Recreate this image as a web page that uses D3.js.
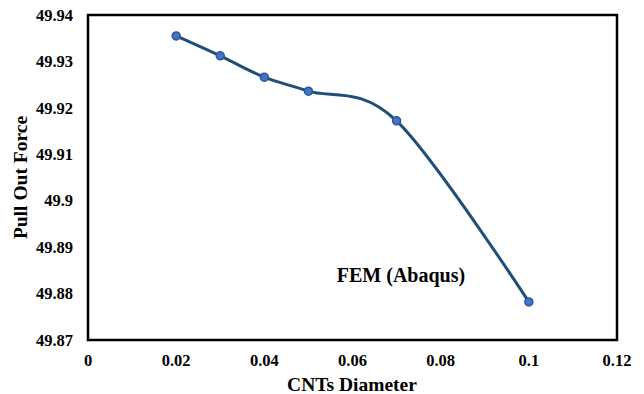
<!DOCTYPE html>
<html>
<head>
<meta charset="utf-8">
<script src="https://cdn.jsdelivr.net/npm/d3@7"></script>
<style>
  body { margin: 0; background: #fff; }
  text { font-family: "Liberation Serif", "Times New Roman", serif; font-weight: bold; fill: #000; }
</style>
</head>
<body>
<svg id="chart" width="644" height="394"></svg>
<script>
// data
var diameters = [0.02, 0.03, 0.04, 0.05, 0.07, 0.1];
var pullOut = [49.9355, 49.9312, 49.9266, 49.9236, 49.9172, 49.8782];
var xTicks = [0, 0.02, 0.04, 0.06, 0.08, 0.1, 0.12];
var yTicks = [49.87, 49.88, 49.89, 49.9, 49.91, 49.92, 49.93, 49.94];

var svg = d3.select("#chart");
var plotLeft = 88, plotRight = 617, plotTop = 15, plotBottom = 340;

var x = d3.scaleLinear().domain([0, 0.12]).range([plotLeft, plotRight]);
var y = d3.scaleLinear().domain([49.87, 49.94]).range([plotBottom, plotTop]);

// frame
svg.append("rect")
    .attr("x", plotLeft)
    .attr("y", plotTop)
    .attr("width", plotRight - plotLeft)
    .attr("height", plotBottom - plotTop)
    .attr("fill", "none")
    .attr("stroke", "#000")
    .attr("stroke-width", 2.5);

// y tick labels
svg.append("g")
    .selectAll("text")
    .data(yTicks)
    .enter()
    .append("text")
    .attr("x", plotLeft - 15)
    .attr("y", function (d) { return y(d); })
    .attr("dy", "0.35em")
    .attr("text-anchor", "end")
    .attr("font-size", 16.5)
    .text(function (d) { return +d.toFixed(2); });

// x tick labels
svg.append("g")
    .selectAll("text")
    .data(xTicks)
    .enter()
    .append("text")
    .attr("x", function (d) { return x(d); })
    .attr("y", plotBottom + 26)
    .attr("text-anchor", "middle")
    .attr("font-size", 16.5)
    .text(function (d) { return +d.toFixed(2); });

// axis titles
svg.append("text")
    .attr("x", 352)
    .attr("y", 391)
    .attr("text-anchor", "middle")
    .attr("font-size", 19.5)
    .text("CNTs Diameter");

svg.append("text")
    .attr("transform", "translate(27, " + ((plotTop + plotBottom) / 2) + ") rotate(-90)")
    .attr("text-anchor", "middle")
    .attr("font-size", 19.5)
    .text("Pull Out Force");

// smoothed line
var points = diameters.map(function (d, i) { return [d, pullOut[i]]; });
var line = d3.line()
    .x(function (d) { return x(d[0]); })
    .y(function (d) { return y(d[1]); })
    .curve(d3.curveCardinal.tension(0));

svg.append("path")
    .datum(points)
    .attr("d", line)
    .attr("fill", "none")
    .attr("stroke", "#1f4e79")
    .attr("stroke-width", 3);

svg.append("g")
    .selectAll("circle")
    .data(points)
    .enter()
    .append("circle")
    .attr("cx", function (d) { return x(d[0]); })
    .attr("cy", function (d) { return y(d[1]); })
    .attr("r", 4)
    .attr("fill", "#4472c4")
    .attr("stroke", "#2f5597")
    .attr("stroke-width", 1.5);

// annotation
svg.append("text")
    .attr("x", 401)
    .attr("y", 282)
    .attr("text-anchor", "middle")
    .attr("font-size", 20)
    .text("FEM (Abaqus)");
</script>
</body>
</html>
